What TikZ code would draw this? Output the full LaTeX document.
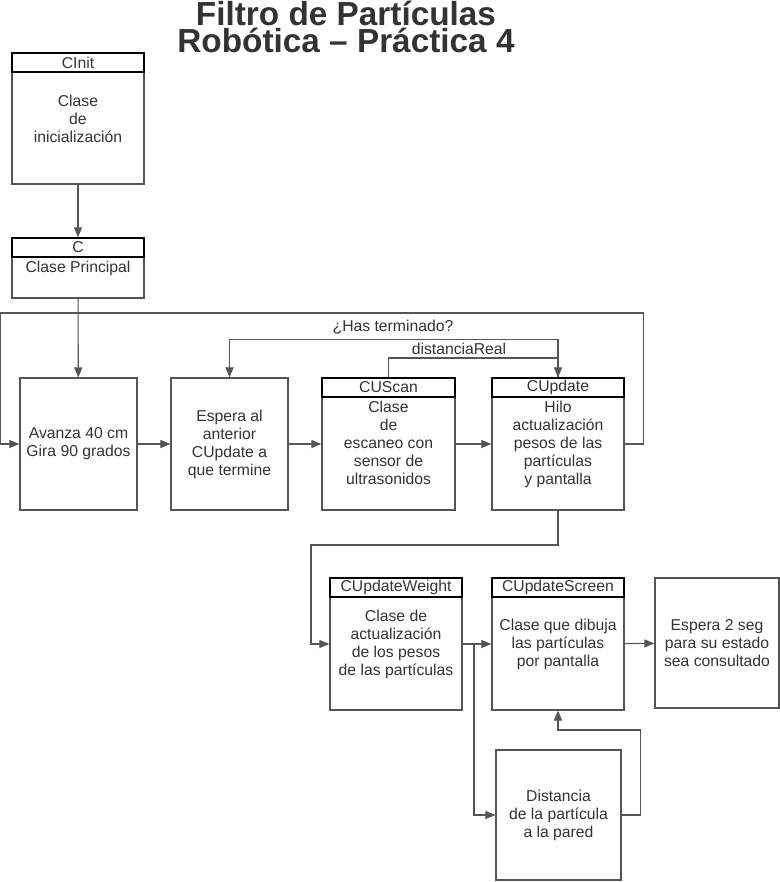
\documentclass[tikz,border=0pt]{standalone}
\usepackage{fontspec}
\setmainfont{Liberation Sans}
\usetikzlibrary{arrows.meta}
\definecolor{txtgray}{HTML}{333333}
\definecolor{boxgray}{HTML}{555555}
\tikzset{
  box/.style={draw=boxgray,line width=0.9pt,inner sep=0pt},
  hdr/.style={draw=black,line width=1pt,anchor=north,minimum height=14.25pt,inner sep=0pt,text=txtgray},
  lbl/.style={inner sep=0.75pt,text=txtgray,align=center,font=\fontsize{11.8}{13.5}\selectfont},
  conn/.style={draw=boxgray,line width=0.8pt,-{Triangle[length=7.5pt,width=6pt]}},
  line/.style={draw=boxgray,line width=0.8pt},
}
\begin{document}
\begin{tikzpicture}[x=0.75pt,y=0.75pt,yscale=-1,xscale=1,font=\fontsize{11.8}{13.5}\selectfont]
	\useasboundingbox (0,0) rectangle (780,882);

	% Title
	\node (title) [text=txtgray,align=center,font=\fontsize{25}{20.5}\selectfont\bfseries] at (346,27) {Filtro de Partículas\\Robótica -- Práctica 4};

	% Boxes
	\node (cinit) [box,minimum width=99pt,minimum height=98.25pt] at (78,118.5) {};
	\node (cinith) [hdr,minimum width=99pt] at (cinit.north) {CInit};
	\node (cinitt) [lbl] at (78,119) {Clase\\de\\inicialización};

	\node (c) [box,minimum width=99pt,minimum height=45pt] at (78,268) {};
	\node (ch) [hdr,minimum width=99pt] at (c.north) {C};
	\node (ct) [lbl] at (78,268) {Clase Principal};

	\node (avanza) [box,minimum width=87.75pt,minimum height=99pt] at (78.5,444) {};
	\node (avanzat) [lbl] at (78.5,444) {Avanza 40 cm\\Gira 90 grados};

	\node (espera) [box,minimum width=87.75pt,minimum height=99pt] at (229.5,444) {};
	\node (esperat) [lbl] at (229.5,444) {Espera al\\anterior\\CUpdate a\\que termine};

	\node (cuscan) [box,minimum width=99.75pt,minimum height=99pt] at (388.5,444) {};
	\node (cuscanh) [hdr,minimum width=99.75pt] at (cuscan.north) {CUScan};
	\node (cuscant) [lbl,anchor=north] at (388.5,400) {Clase\\de\\escaneo con\\sensor de\\ultrasonidos};

	\node (cupdate) [box,minimum width=99pt,minimum height=99pt] at (558,444) {};
	\node (cupdateh) [hdr,minimum width=99pt] at (cupdate.north) {CUpdate};
	\node (cupdatet) [lbl,anchor=north] at (558,400) {Hilo\\actualización\\pesos de las\\partículas\\ y pantalla};

	\node (cweight) [box,minimum width=99pt,minimum height=99pt] at (396,644) {};
	\node (cweighth) [hdr,minimum width=99pt] at (cweight.north) {CUpdateWeight};
	\node (cweightt) [lbl] at (396,644) {Clase de\\actualización\\de los pesos\\de las partículas};

	\node (cscreen) [box,minimum width=99pt,minimum height=99pt] at (558,644) {};
	\node (cscreenh) [hdr,minimum width=99pt] at (cscreen.north) {CUpdateScreen};
	\node (cscreent) [lbl] at (558,644) {Clase que dibuja\\las partículas\\por pantalla};

	\node (espera2) [box,minimum width=93pt,minimum height=97.5pt] at (717,643) {};
	\node (espera2t) [lbl] at (717,643) {Espera 2 seg\\para su estado\\sea consultado};

	\node (dist) [box,minimum width=93.75pt,minimum height=97.5pt] at (558.5,815) {};
	\node (distt) [lbl] at (558.5,815) {Distancia\\de la partícula\\a la pared};

	% Connections
	\draw [conn] (cinit) -- (ch);
	\draw [conn] (c) -- (avanza);
	\draw [conn] (avanza) -- (espera);
	\draw [conn] (espera) -- (cuscan);
	\draw [conn] (cuscan) -- (cupdate);
	\draw [conn] (cupdate.east) -- ++(19,0) |- (0,313) |- (avanza.west);
	\draw [conn] (cupdateh.north) ++(0,-38) -| (espera.north);
	\node (hasterm) [lbl] at (393,327) {¿Has terminado?};
	\draw [line] (cupdateh.north) -- ++(0,-38);
	\draw [conn] (cuscanh.north) |- (558,358) -- (cupdateh.north);
	\node (distreal) [lbl] at (459,349) {distanciaReal};
	\draw [conn] (cupdate.south) |- (311,545) |- (cweight.west);
	\draw [conn] (cweight) -- (cscreen);
	\draw [conn] (cscreen) -- (espera2);
	\draw [conn] (474,644) |- (dist.west);
	\draw [conn] (dist.east) -- ++(19,0) |- (558,730) -- (cscreen.south);

\end{tikzpicture}
\end{document}
